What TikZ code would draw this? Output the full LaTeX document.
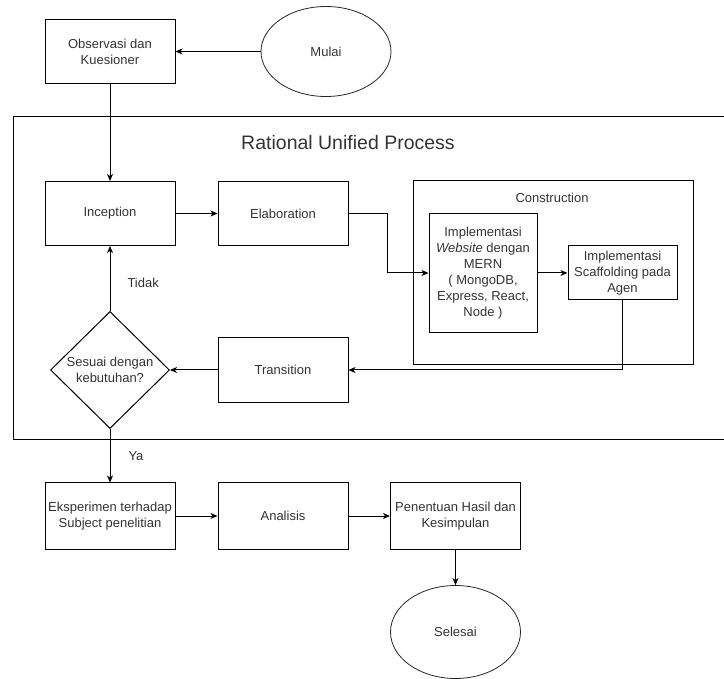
\documentclass[tikz,border=0pt]{standalone}
\usepackage{fontspec}
\setmainfont{Liberation Sans}
\usetikzlibrary{shapes.geometric,arrows.meta}

\begin{document}
\begin{tikzpicture}[x=1pt,y=-1pt,
		every node/.style={font=\fontsize{13}{16}\selectfont, text=black!80},
		langkah/.style={draw=black, line width=1pt, minimum width=130pt, minimum height=64pt, align=center, inner sep=2pt},
		terminal/.style={draw=black!85, line width=0.8pt, ellipse, minimum width=130pt, minimum height=90pt, inner sep=0pt},
		keputusan/.style={draw=black, line width=1pt, diamond, minimum width=119pt, minimum height=117pt, inner sep=0pt},
		panah/.style={line width=1pt, -{Stealth[length=7pt, width=6pt, inset=2pt]}},
		garis/.style={line width=1pt}]
				\useasboundingbox (0,0) rectangle (724,679);
				\draw [garis] (13,117) rectangle (727,440);
				\node [font=\fontsize{19.5}{23}\selectfont] (judul) at (348,143) {Rational Unified Process};
				\draw [garis] (413,181) rectangle (693,365);
				\node (konstruksi) at (552,198) {Construction};
				\node [langkah] (observasi) at (110,51.5) {Observasi dan\\Kuesioner};
				\node [terminal] (mulai) at (326,51.5) {Mulai};
				\node [langkah] (inception) at (110,213.5) {Inception};
				\node [langkah] (elaboration) at (283,213.5) {Elaboration};
				\node [langkah, minimum width=108pt, minimum height=119pt] (website) at (483,273) {Implementasi\\\textit{Website} dengan\\MERN\\( MongoDB,\\Express, React,\\Node )};
				\node [langkah, minimum width=109pt, minimum height=54pt] (scaffolding) at (622.5,273) {Implementasi\\Scaffolding pada\\Agen};
				\node [langkah, minimum height=65pt] (transition) at (283,370) {Transition};
				\node [keputusan] (cek) at (110,370) {};
				\node [align=center] (cekteks) at (cek) {Sesuai dengan\\kebutuhan?};
				\node [langkah, minimum height=66pt] (eksperimen) at (110,516) {Eksperimen terhadap\\Subject penelitian};
				\node [langkah, minimum height=66pt] (analisis) at (283,516) {Analisis};
				\node [langkah, minimum height=66pt] (penentuan) at (455.5,516) {Penentuan Hasil dan\\Kesimpulan};
				\node [terminal, minimum height=93pt] (selesai) at (455.5,632) {Selesai};
				\node [anchor=west] (tidak) at (124,283) {Tidak};
				\node [anchor=west] (ya) at (125,456) {Ya};
				\coordinate (belok) at (387,213.5);
				\draw [panah] (mulai) -- (observasi);
				\draw [panah] (observasi) -- (inception);
				\draw [panah] (inception) -- (elaboration);
				\draw [panah] (elaboration.east) -- (belok) |- (website.west);
				\draw [panah] (website) -- (scaffolding);
				\draw [panah] (scaffolding.south) |- (transition.east);
				\draw [panah] (transition) -- (cek);
				\draw [panah] (cek) -- (inception);
				\draw [panah] (cek) -- (eksperimen);
				\draw [panah] (eksperimen) -- (analisis);
				\draw [panah] (analisis) -- (penentuan);
				\draw [panah] (penentuan) -- (selesai);
			\end{tikzpicture}
\end{document}
